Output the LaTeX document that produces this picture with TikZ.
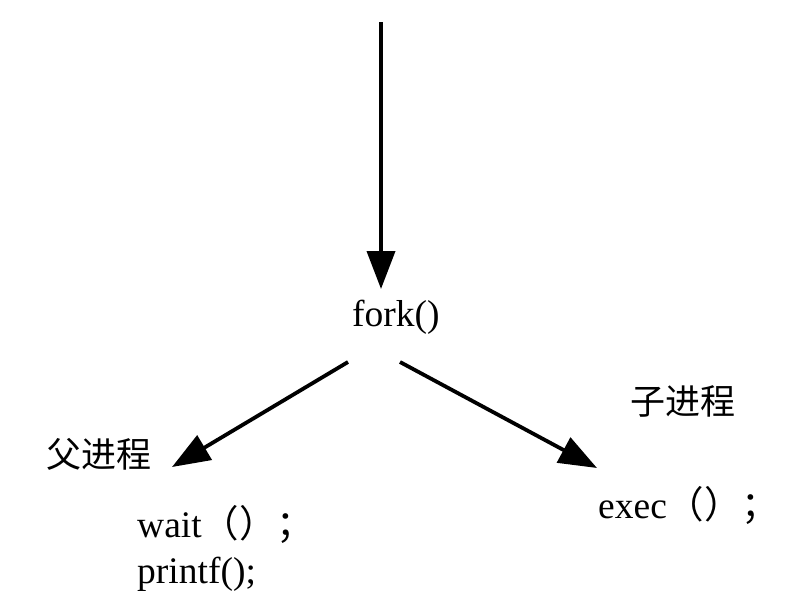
\documentclass[tikz,border=0pt]{standalone}
\usepackage{fontspec}
\setmainfont{Liberation Serif}
\newfontfamily\cjk{Noto Sans CJK SC}
\usetikzlibrary{arrows.meta}
\begin{document}
\begin{tikzpicture}[x=1pt,y=-1pt,
  arr/.style={line width=3.8pt,-{Triangle[length=38pt,width=28pt]}},
  lat/.style={inner sep=0pt,anchor=base west,font=\fontsize{37.5}{46}\selectfont},
  zh/.style={inner sep=0pt,anchor=base west,font=\fontsize{35}{40}\cjk\selectfont}]
\useasboundingbox[fill=white] (0,0) rectangle (794,605);
% text nodes
\node[lat] (fork) at (352,326) {fork()};
\node[zh] (parent) at (46,467) {父进程};
\node[zh] (child) at (630,414) {子进程};
\node[lat] (wait) at (137,537) {wait{\cjk （）；}};
\node[lat] (printf) at (137,583) {printf();};
\node[lat] (exec) at (598,518) {exec{\cjk （）；}};
% arrow end points
\coordinate (top) at (381,22);
\coordinate (forkin) at (381,289);
\coordinate (forkL) at (348,362);
\coordinate (forkR) at (400,362);
\coordinate (ptip) at (172,467);
\coordinate (ctip) at (597,468);
\draw[arr] (top) -- (forkin);
\draw[arr] (forkL) -- (ptip);
\draw[arr] (forkR) -- (ctip);
\end{tikzpicture}
\end{document}
